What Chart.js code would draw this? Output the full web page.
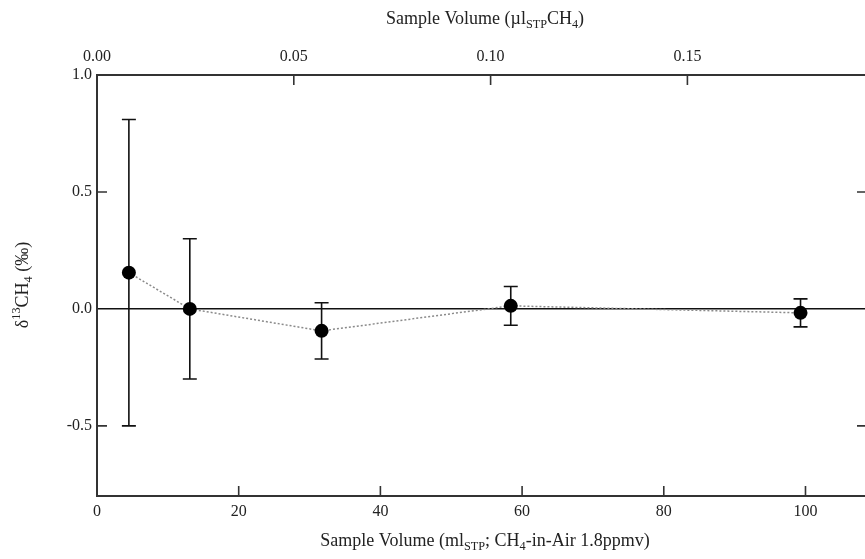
<!DOCTYPE html>
<html><head><meta charset="utf-8">
<script src="https://cdn.jsdelivr.net/npm/chart.js@4/dist/chart.umd.min.js"></script>
<style>html,body{margin:0;padding:0;background:#fff;overflow:hidden}</style>
</head><body>
<canvas id="c" width="865" height="559"></canvas>
<script>
// ---- data ----
const sampleVolumeMl = [4.5, 13.1, 31.7, 58.4, 99.3];
const delta13C = [0.155, 0.0, -0.094, 0.013, -0.017];
const errorHalf = [0.655, 0.30, 0.12, 0.083, 0.06];
const bottomTicks = [0, 20, 40, 60, 80, 100];
const topTicks = [0.00, 0.05, 0.10, 0.15];
const leftTicks = [1.0, 0.5, 0.0, -0.5];
const mixingRatioPpmv = 1.8;
const xMaxMl = 108.4;
const yMin = -0.8, yMax = 1.0;

const FONT = "'Liberation Serif', 'Times New Roman', serif";
const AXIS_COLOR = '#333';

function measureParts(ctx, parts, size) {
  return parts.map(p => {
    const fs = p.s ? size * 0.68 : size;
    ctx.font = fs + 'px ' + FONT;
    return ctx.measureText(p.t).width;
  });
}
function richText(ctx, parts, cx, cy, size) {
  ctx.save();
  const widths = measureParts(ctx, parts, size);
  const total = widths.reduce((a, b) => a + b, 0);
  let x = cx - total / 2;
  ctx.fillStyle = '#222';
  ctx.textBaseline = 'middle';
  ctx.textAlign = 'left';
  parts.forEach((p, i) => {
    const fs = p.s ? size * 0.68 : size;
    ctx.font = fs + 'px ' + FONT;
    let dy = 0;
    if (p.s === 'sub') dy = size * 0.32;
    if (p.s === 'sup') dy = -size * 0.32;
    ctx.fillText(p.t, x, cy + dy);
    x += widths[i];
  });
  ctx.restore();
}

const decorPlugin = {
  id: 'decor',
  beforeDatasetsDraw(chart) {
    const { ctx } = chart;
    const xs = chart.scales.x, ys = chart.scales.y;
    ctx.save();
    ctx.strokeStyle = '#111';
    ctx.lineWidth = 1.6;
    sampleVolumeMl.forEach((v, i) => {
      const px = xs.getPixelForValue(v);
      const top = ys.getPixelForValue(delta13C[i] + errorHalf[i]);
      const bot = ys.getPixelForValue(delta13C[i] - errorHalf[i]);
      ctx.beginPath();
      ctx.moveTo(px, top); ctx.lineTo(px, bot);
      ctx.moveTo(px - 7, top); ctx.lineTo(px + 7, top);
      ctx.moveTo(px - 7, bot); ctx.lineTo(px + 7, bot);
      ctx.stroke();
    });
    ctx.restore();
  },
  afterDraw(chart) {
    const { ctx, chartArea: a } = chart;
    const xs = chart.scales.x, xt = chart.scales.xTop, ys = chart.scales.y;
    ctx.save();
    ctx.strokeStyle = AXIS_COLOR;
    ctx.lineWidth = 1.6;
    ctx.beginPath();
    bottomTicks.forEach(v => {
      if (v === 0) return;
      const px = xs.getPixelForValue(v);
      ctx.moveTo(px, a.bottom); ctx.lineTo(px, a.bottom - 10);
    });
    topTicks.forEach(v => {
      if (v === 0) return;
      const px = xt.getPixelForValue(v);
      ctx.moveTo(px, a.top); ctx.lineTo(px, a.top + 10);
    });
    leftTicks.forEach(v => {
      if (v === 1.0 || v === 0) return;
      const py = ys.getPixelForValue(v);
      ctx.moveTo(a.left, py); ctx.lineTo(a.left + 10, py);
      ctx.moveTo(a.right, py); ctx.lineTo(a.right - 8, py);
    });
    ctx.stroke();
    ctx.restore();

    const cx = 485;
    richText(ctx, [{t:'Sample Volume (ml'},{t:'STP',s:'sub'},{t:'; CH'},{t:'4',s:'sub'},{t:'-in-Air 1.8ppmv)'}], cx, 541, 18);
    richText(ctx, [{t:'Sample Volume (\u00b5l'},{t:'STP',s:'sub'},{t:'CH'},{t:'4',s:'sub'},{t:')'}], cx, 19, 18);
    ctx.save();
    ctx.translate(23, 285);
    ctx.rotate(-Math.PI / 2);
    richText(ctx, [{t:'\u03b4'},{t:'13',s:'sup'},{t:'CH'},{t:'4',s:'sub'},{t:' (\u2030)'}], 0, 0, 18);
    ctx.restore();
  }
};

new Chart(document.getElementById('c'), {
  type: 'scatter',
  data: {
    datasets: [{
      data: sampleVolumeMl.map((v, i) => ({ x: v, y: delta13C[i] })),
      showLine: true,
      borderColor: '#8a8a8a',
      borderWidth: 1.5,
      borderDash: [2, 2],
      pointRadius: 7,
      pointHoverRadius: 7,
      pointBackgroundColor: '#000',
      pointBorderColor: '#000',
      pointBorderWidth: 0
    }]
  },
  options: {
    responsive: false,
    animation: false,
    devicePixelRatio: 1,
    layout: { padding: 0, autoPadding: false },
    plugins: { legend: { display: false }, tooltip: { enabled: false } },
    scales: {
      x: {
        type: 'linear', position: 'bottom', min: 0, max: xMaxMl,
        afterBuildTicks: s => { s.ticks = bottomTicks.map(v => ({ value: v })); },
        afterFit: s => { s.height = 63; s.paddingRight = 0; s.paddingLeft = 0; },
        ticks: { font: { family: FONT, size: 16 }, color: '#222', padding: 6, maxRotation: 0,
                 callback: v => String(v) },
        grid: { display: true, drawOnChartArea: false, drawTicks: false },
        border: { display: true, color: AXIS_COLOR, width: 2 }
      },
      xTop: {
        type: 'linear', position: 'top', min: 0, max: xMaxMl * mixingRatioPpmv / 1000,
        afterBuildTicks: s => { s.ticks = topTicks.map(v => ({ value: v })); },
        afterFit: s => { s.height = 75; s.paddingRight = 0; s.paddingLeft = 0; },
        ticks: { font: { family: FONT, size: 16 }, color: '#222', padding: 9, maxRotation: 0,
                 callback: v => Number(v).toFixed(2) },
        grid: { display: true, drawOnChartArea: false, drawTicks: false },
        border: { display: true, color: AXIS_COLOR, width: 2 }
      },
      y: {
        type: 'linear', position: 'left', min: yMin, max: yMax,
        afterBuildTicks: s => { s.ticks = leftTicks.map(v => ({ value: v })); },
        afterFit: s => { s.width = 97; s.paddingTop = 0; s.paddingBottom = 0; },
        ticks: { font: { family: FONT, size: 16 }, color: '#222', padding: 5,
                 callback: v => Number(v).toFixed(1) },
        grid: {
          display: true, drawTicks: false, drawOnChartArea: true,
          color: c => (c.tick && c.tick.value === 0) ? '#111' : 'rgba(0,0,0,0)',
          lineWidth: 1.6
        },
        border: { display: true, color: AXIS_COLOR, width: 2 }
      }
    }
  },
  plugins: [decorPlugin]
});
</script>
</body></html>
